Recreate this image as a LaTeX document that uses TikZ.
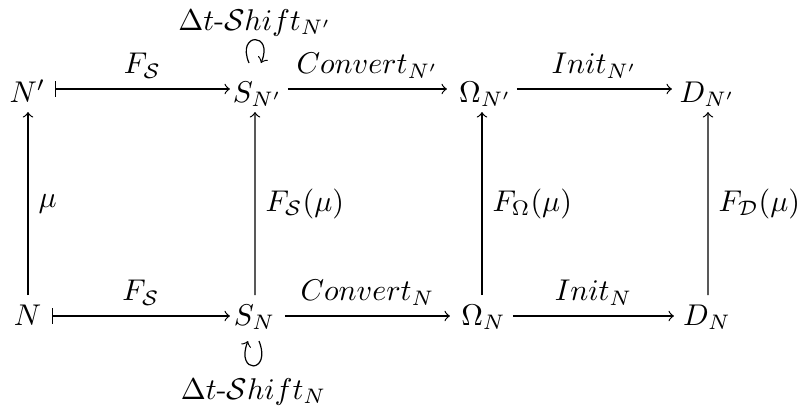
\documentclass[tikz,border=0pt]{standalone}
\usepackage{amsmath}
\begin{document}
\begin{tikzpicture}[x=0.3333pt,y=-0.3333pt,
  obj/.style={inner sep=0pt, anchor=base},
  arr/.style={->},
  maparr/.style={|->},
  looplabel/.style={inner sep=0pt, anchor=base}]
\useasboundingbox (0,0) rectangle (797,407);
% objects
\node[obj] (Np) at (27.5,102) {$N'$};
\node[obj] (Sp) at (257.5,102) {$S_{N'}$};
\node[obj] (Op) at (485.5,102) {$\Omega_{N'}$};
\node[obj] (Dp) at (707.5,102) {$D_{N'}$};
\node[obj] (N) at (27.5,325) {$N$};
\node[obj] (S) at (254.5,325) {$S_{N}$};
\node[obj] (O) at (483.5,325) {$\Omega_{N}$};
\node[obj] (D) at (707,325) {$D_{N}$};
% top row
\draw[maparr] ([shift={(27.5,-13)}]Np.base) -- node[above]{$F_{\mathcal{S}}$} ([shift={(-27.5,-13)}]Sp.base);
\draw[arr] ([shift={(30.5,-13)}]Sp.base) -- node[above]{$Convert_{N'}$} ([shift={(-38.5,-13)}]Op.base);
\draw[arr] ([shift={(31.5,-13)}]Op.base) -- node[above]{$Init_{N'}$} ([shift={(-35.5,-13)}]Dp.base);
% bottom row
\draw[maparr] ([shift={(24.5,-9)}]N.base) -- node[above]{$F_{\mathcal{S}}$} ([shift={(-24.5,-9)}]S.base);
\draw[arr] ([shift={(30.5,-9)}]S.base) -- node[above]{$Convert_{N}$} ([shift={(-33.5,-9)}]O.base);
\draw[arr] ([shift={(29.5,-9)}]O.base) -- node[above]{$Init_{N}$} ([shift={(-33,-9)}]D.base);
% verticals
\draw[arr] ([shift={(0.5,-30)}]N.base) -- node[right]{$\mu$} ([shift={(0.5,10)}]Np.base);
\draw[arr] ([shift={(0.5,-30)}]S.base) -- node[right]{$F_{\mathcal{S}}(\mu)$} ([shift={(-2.5,10)}]Sp.base);
\draw[arr] ([shift={(-1.5,-30)}]O.base) -- node[right]{$F_{\Omega}(\mu)$} ([shift={(-3.5,10)}]Op.base);
\draw[arr] ([shift={(1,-30)}]D.base) -- node[right]{$F_{\mathcal{D}}(\mu)$} ([shift={(0.5,10)}]Dp.base);
% loops
\draw[arr] ([shift={(-8.5,-39)}]Sp.base) .. controls ([shift={(-21.5,-70)}]Sp.base) and ([shift={(16.5,-70)}]Sp.base) .. node[looplabel, pos=.5, yshift=3.2pt]{$\Delta t\text{-}\mathcal{S}hift_{N'}$} ([shift={(3.5,-39)}]Sp.base);
\draw[arr] ([shift={(4.5,16)}]S.base) .. controls ([shift={(17.5,49)}]S.base) and ([shift={(-19.5,49)}]S.base) .. node[looplabel, pos=.5, yshift=-11.2pt]{$\Delta t\text{-}\mathcal{S}hift_{N}$} ([shift={(-6.5,16)}]S.base);
\end{tikzpicture}
\end{document}
